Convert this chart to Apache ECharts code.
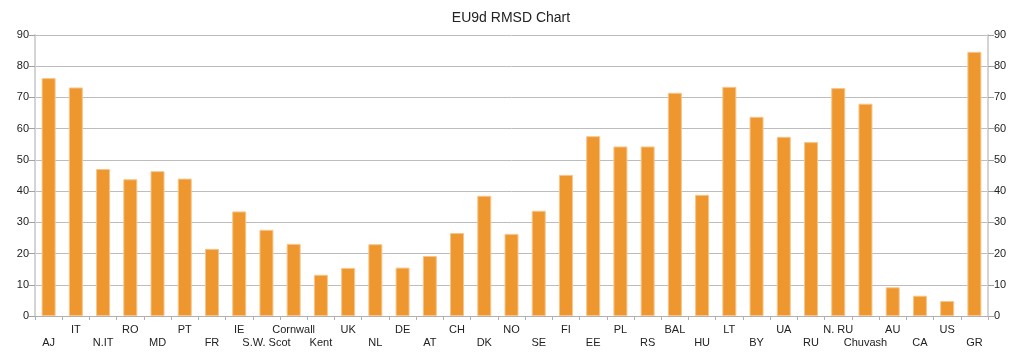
<!DOCTYPE html>
<html>
<head>
<meta charset="utf-8">
<script src="https://cdn.jsdelivr.net/npm/echarts@6/dist/echarts.min.js"></script>
<style>
html,body{margin:0;padding:0;background:#fff;}
#chart{width:1022px;height:356px;}
</style>
</head>
<body>
<div id="chart"></div>
<script>
const categories = ['AJ','IT','N.IT','RO','MD','PT','FR','IE','S.W. Scot','Cornwall','Kent','UK','NL','DE','AT','CH','DK','NO','SE','FI','EE','PL','RS','BAL','HU','LT','BY','UA','RU','N. RU','Chuvash','AU','CA','US','GR'];
const rmsd = [76.2,73.2,47.1,43.8,46.4,44.0,21.5,33.5,27.6,23.1,13.2,15.4,23.0,15.5,19.2,26.6,38.5,26.3,33.7,45.2,57.6,54.3,54.3,71.5,38.8,73.4,63.8,57.4,55.7,73.0,68.0,9.2,6.5,4.8,84.6];
const yTicks = {min:0, max:90, interval:10};

const chart = echarts.init(document.getElementById('chart'));
const font = 'Liberation Sans, Arial, Helvetica, sans-serif';
const yAxisBase = {
  type:'value', min:yTicks.min, max:yTicks.max, interval:yTicks.interval,
  axisLine:{show:true, lineStyle:{color:'#d4d4d4', width:2}},
  axisTick:{show:true, length:6, lineStyle:{color:'#a0a0a0'}},
  axisLabel:{color:'#222', fontSize:11, fontFamily:font, margin:6},
  splitLine:{show:true, lineStyle:{color:'#bdbdbd', width:1}}
};
chart.setOption({
  animation:false,
  title:{text:'EU9d RMSD Chart', left:'center', top:6,
    textStyle:{fontSize:14, fontWeight:'normal', color:'#222', fontFamily:font}},
  grid:{left:35, right:34, top:35, bottom:40, containLabel:false},
  xAxis:{
    type:'category', data:categories,
    axisLine:{show:true, lineStyle:{color:'#b0b0b0', width:1}},
    axisTick:{show:true, length:4, alignWithLabel:false, lineStyle:{color:'#b0b0b0'}},
    axisLabel:{interval:0, color:'#222', fontSize:11, fontFamily:font, margin:7, lineHeight:13,
      formatter:(v, i) => (i % 2 === 1 ? v : '\n' + v)}
  },
  yAxis:[
    Object.assign({}, yAxisBase, {position:'left'}),
    Object.assign({}, yAxisBase, {position:'right', splitLine:{show:false}})
  ],
  series:[{
    type:'bar', data:rmsd, yAxisIndex:0, barWidth:14,
    itemStyle:{color:'#EE972F', borderColor:'#F7C68C', borderWidth:1}
  }]
});
</script>
</body>
</html>
